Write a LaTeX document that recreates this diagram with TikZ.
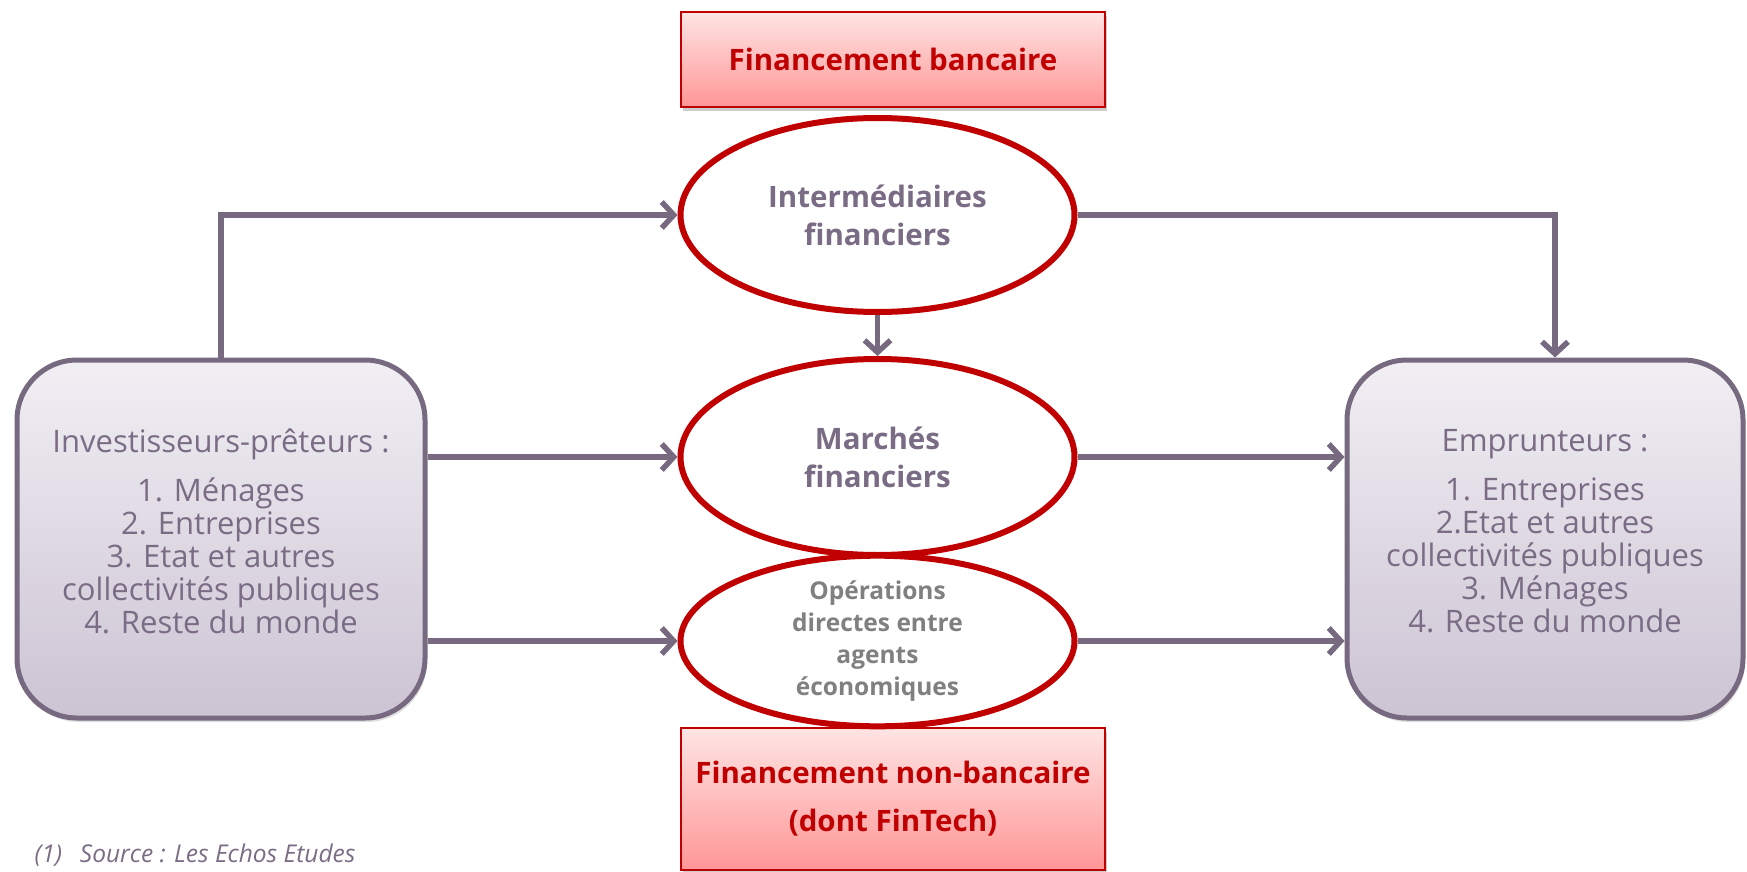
\documentclass[tikz,border=0pt]{standalone}
\usepackage{fontspec}
\setmainfont{Open Sans}
\usetikzlibrary{arrows.meta,shapes.geometric,shadows}
\definecolor{flowclr}{RGB}{118,105,128}
\definecolor{agentclr}{RGB}{122,108,132}
\definecolor{bankred}{RGB}{192,0,0}
\definecolor{opgrey}{RGB}{128,128,128}
\definecolor{lavtop}{RGB}{241,239,244}
\definecolor{lavbot}{RGB}{204,195,211}
\definecolor{pinktop}{RGB}{255,228,228}
\definecolor{pinkbot}{RGB}{255,150,150}
\begin{document}
\begin{tikzpicture}[x=1pt, y=-1pt,
    flow/.style={draw=flowclr, line width=5.5pt, -{Straight Barb[length=12pt,width=26pt]}},
    agent/.style={draw=flowclr, line width=5pt, rounded corners=60pt, top color=lavtop, bottom color=lavbot,
        minimum height=358pt, align=center, text=agentclr, font=\fontsize{31}{33}\selectfont,
        drop shadow={shadow xshift=2pt, shadow yshift=-4pt, opacity=.25}},
    channel/.style={ellipse, draw=bankred, line width=6pt, fill=white, minimum width=394pt, inner sep=0pt,
        align=center, text=agentclr, font=\bfseries\fontsize{29.5}{38}\selectfont},
    banner/.style={draw=bankred, line width=1.5pt, top color=pinktop, bottom color=pinkbot, minimum width=424pt,
        align=center, text=bankred, font=\bfseries\fontsize{29.5}{48}\selectfont,
        drop shadow={shadow xshift=2pt, shadow yshift=-4pt, opacity=.4}}]
\useasboundingbox (0,0) rectangle (1747,872);

\node[banner, minimum height=95pt] (bank) at (893,59.5) {Financement bancaire};
\node[banner, minimum height=142pt] (nonbank) at (893,799) {Financement non-bancaire\\(dont FinTech)};

\node[channel, minimum height=194pt] (inter) at (877.5,215) {Intermédiaires\\financiers};
\node[channel, minimum height=196pt] (marche) at (877.5,457) {Marchés\\financiers};
\node[channel, minimum height=150pt, text=opgrey, font=\bfseries\fontsize{24.5}{32}\selectfont] (oper) at (877.5,641)
    {Opérations\\directes entre\\agents\\économiques};

\node[agent, minimum width=408pt] (lend) at (221,539)
    {Investisseurs-prêteurs :\\[16pt]1. Ménages\\2. Entreprises\\3. Etat et autres\\collectivités publiques\\4. Reste du monde\\[-17pt]};
\node[agent, minimum width=396pt] (borr) at (1545,539)
    {Emprunteurs :\\[16pt]1. Entreprises\\2.Etat et autres\\collectivités publiques\\3. Ménages\\4. Reste du monde\\[-17pt]};

\draw[flow] (lend.north) |- (inter.west);
\draw[flow] (inter.east) -| ([xshift=10pt]borr.north);
\draw[flow] (inter.south) -- (marche.north);
\foreach \target in {marche,oper}
{
    \draw[flow] (lend.east |- \target.west) -- (\target.west);
    \draw[flow] (\target.east) -- (borr.west |- \target.east);
}

\node[anchor=west, text=agentclr, font=\itshape\fontsize{24.5}{26}\selectfont] (source) at (31,855)
    {(1)\hspace{18pt}Source : Les Echos Etudes};
\end{tikzpicture}
\end{document}
